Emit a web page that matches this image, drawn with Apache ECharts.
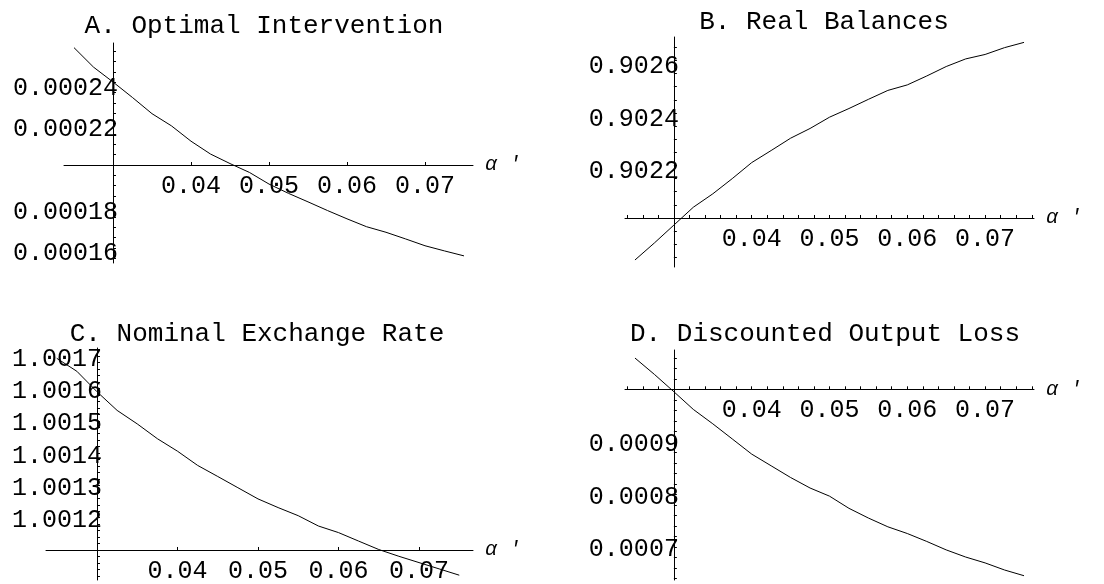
<!DOCTYPE html>
<html>
<head>
<meta charset="utf-8">
<script src="https://cdn.jsdelivr.net/npm/echarts@6/dist/echarts.min.js"></script>
<style>
  html, body { margin: 0; padding: 0; background: #fff; }
  #chart { width: 1104px; height: 584px; }
</style>
</head>
<body>
<div id="chart"></div>
<script>
// Sample grid of alpha' values shared by all four panels
const alphaValues = [0.025, 0.0275, 0.03, 0.0325, 0.035, 0.0375, 0.04, 0.0425, 0.045, 0.0475,
  0.05, 0.0525, 0.055, 0.0575, 0.06, 0.0625, 0.065, 0.0675, 0.07, 0.0725, 0.075];

// A. Optimal intervention
const interventionValues = [0.0002567, 0.0002473, 0.0002401, 0.0002326, 0.0002248, 0.0002189,
  0.0002115, 0.0002053, 0.0002007, 0.0001964, 0.0001908, 0.0001863, 0.0001822, 0.0001780,
  0.0001740, 0.0001702, 0.0001675, 0.0001643, 0.0001610, 0.0001585, 0.0001561];

// B. Real balances
const realBalanceValues = [0.901840, 0.901905, 0.901973, 0.902041, 0.902092, 0.902150, 0.902211,
  0.902257, 0.902304, 0.902341, 0.902384, 0.902417, 0.902452, 0.902486, 0.902507, 0.902541,
  0.902577, 0.902606, 0.902623, 0.902649, 0.902669];

// C. Nominal exchange rate
const exchangeRateValues = [1.0016935, 1.0016533, 1.0015900, 1.0015322, 1.0014904, 1.0014446,
  1.0014059, 1.0013619, 1.0013276, 1.0012929, 1.0012582, 1.0012313, 1.0012062, 1.0011743,
  1.0011539, 1.0011276, 1.0011015, 1.0010805, 1.0010610, 1.0010415, 1.0010220];

// D. Discounted output loss
const outputLossValues = [0.0010596, 0.0010284, 0.0009954, 0.0009617, 0.0009343, 0.0009055,
  0.0008766, 0.0008543, 0.0008320, 0.0008120, 0.0007965, 0.0007733, 0.0007548, 0.0007381,
  0.0007253, 0.0007102, 0.0006941, 0.0006805, 0.0006693, 0.0006558, 0.0006449];

// Panel titles
const panelTitles = ['A. Optimal Intervention', 'B. Real Balances',
  'C. Nominal Exchange Rate', 'D. Discounted Output Loss'];

// Labelled ticks
const xTickLabels = [0.04, 0.05, 0.06, 0.07];
const yTickLabelsA = [0.00016, 0.00018, 0.00022, 0.00024];
const yTickLabelsB = [0.9022, 0.9024, 0.9026];
const yTickLabelsC = [1.0012, 1.0013, 1.0014, 1.0015, 1.0016, 1.0017];
const yTickLabelsD = [0.0007, 0.0008, 0.0009];

// Plot ranges and the point where the axes cross
const xRangeA = [0.023718, 0.076154];
const yRangeA = [0.00015266, 0.00025894];
const xRangeB = [0.023718, 0.076282];
const yRangeB = [0.9018133, 0.9026895];
const xRangeC = [0.023665, 0.076708];
const yRangeC = [1.0010071, 1.0017254];
const xRangeD = [0.023718, 0.076282];
const yRangeD = [0.00063676, 0.0010749];
const axesOriginA = [0.03, 0.0002];
const axesOriginB = [0.03, 0.902];
const axesOriginC = [0.03, 1.0011];
const axesOriginD = [0.03, 0.001];

const MONO = '"Liberation Mono", "Courier New", monospace';

// Evenly spaced tick values inside a range, leaving out the axis crossing
function tickRun(range, step, skip) {
  const out = [];
  const k0 = Math.ceil(range[0] / step - 1e-9);
  const k1 = Math.floor(range[1] / step + 1e-9);
  for (let k = k0; k <= k1; k++) {
    const v = +(k * step).toPrecision(12);
    if (Math.abs(v - skip) > step * 1e-6) out.push(v);
  }
  return out;
}

// yDrop: how far the y tick labels sit below their ticks
const panels = [
  { rect: { left: 64, top: 43, width: 409, height: 220 }, xr: xRangeA, yr: yRangeA, origin: axesOriginA,
    xTicks: xTickLabels, yTicks: tickRun(yRangeA, 0.000005, axesOriginA[1]), yLabels: yTickLabelsA, yDec: 5,
    yDrop: 6, values: interventionValues, title: { left: 264, top: 13 } },
  { rect: { left: 625, top: 37, width: 409, height: 230 }, xr: xRangeB, yr: yRangeB, origin: axesOriginB,
    xTicks: tickRun(xRangeB, 0.002, axesOriginB[0]), yTicks: tickRun(yRangeB, 0.00005, axesOriginB[1]),
    yLabels: yTickLabelsB, yDec: 4, yDrop: 6, values: realBalanceValues, title: { left: 824, top: 9 } },
  { rect: { left: 46, top: 348, width: 427, height: 232 }, xr: xRangeC, yr: yRangeC, origin: axesOriginC,
    xTicks: xTickLabels, yTicks: tickRun(yRangeC, 0.00002, axesOriginC[1]), yLabels: yTickLabelsC, yDec: 4,
    yDrop: 3, values: exchangeRateValues, title: { left: 257, top: 321 } },
  { rect: { left: 625, top: 350, width: 409, height: 230 }, xr: xRangeD, yr: yRangeD, origin: axesOriginD,
    xTicks: tickRun(xRangeD, 0.002, axesOriginD[0]), yTicks: tickRun(yRangeD, 0.00002, axesOriginD[1]),
    yLabels: yTickLabelsD, yDec: 4, yDrop: 3, values: outputLossValues, title: { left: 825, top: 321 } }
];

const chart = echarts.init(document.getElementById('chart'), null, { renderer: 'canvas' });

const axisLine = { show: true, onZero: false, lineStyle: { color: '#000', width: 1 } };

const option = {
  animation: false,
  backgroundColor: '#fff',
  title: panels.map((p, i) => ({
    text: panelTitles[i],
    left: p.title.left,
    top: p.title.top,
    textAlign: 'center',
    padding: 0,
    textStyle: { fontFamily: MONO, fontSize: 26, fontWeight: 'normal', color: '#000' }
  })),
  // fixed plot rectangles: labels may hang outside them
  grid: panels.map(p => Object.assign({ containLabel: false, outerBoundsMode: 'none' }, p.rect)),
  xAxis: panels.map((p, i) => ({
    type: 'value',
    gridIndex: i,
    position: 'bottom',
    min: p.xr[0],
    max: p.xr[1],
    axisLine: axisLine,
    splitLine: { show: false },
    axisTick: { show: true, inside: true, length: 3, customValues: p.xTicks,
      lineStyle: { color: '#000', width: 1 } },
    axisLabel: { show: true, customValues: xTickLabels, margin: 9,
      formatter: v => v.toFixed(2),
      fontFamily: MONO, fontSize: 25, color: '#000' },
    name: "α '",
    nameLocation: 'end',
    nameGap: 12,
    nameTextStyle: { fontFamily: MONO, fontSize: 20, fontStyle: 'italic', color: '#000',
      padding: [8, 0, 0, 0] }
  })),
  yAxis: panels.map((p, i) => ({
    type: 'value',
    gridIndex: i,
    position: 'left',
    min: p.yr[0],
    max: p.yr[1],
    axisLine: axisLine,
    splitLine: { show: false },
    axisTick: { show: true, inside: true, length: 3, customValues: p.yTicks,
      lineStyle: { color: '#000', width: 1 } },
    axisLabel: { show: true, customValues: p.yLabels, margin: -5,
      formatter: (dec => v => v.toFixed(dec))(p.yDec),
      verticalAlign: 'top', lineHeight: 2 * p.yDrop,
      fontFamily: MONO, fontSize: 25, color: '#000' }
  })),
  series: panels.map((p, i) => ({
    type: 'line',
    xAxisIndex: i,
    yAxisIndex: i,
    data: alphaValues.map((a, j) => [a, p.values[j]]),
    showSymbol: false,
    symbol: 'none',
    smooth: false,
    clip: true,
    lineStyle: { color: '#000', width: 1 }
  }))
};

chart.setOption(option);

// Move each pair of axes so they cross at the panel's origin point
const xOffsets = [], yOffsets = [];
panels.forEach((p, i) => {
  const pt = chart.convertToPixel({ gridIndex: i }, p.origin);
  xOffsets.push({ offset: pt[1] - (p.rect.top + p.rect.height) });
  yOffsets.push({ offset: p.rect.left - pt[0] });
});
chart.setOption({ xAxis: xOffsets, yAxis: yOffsets });
</script>
</body>
</html>
